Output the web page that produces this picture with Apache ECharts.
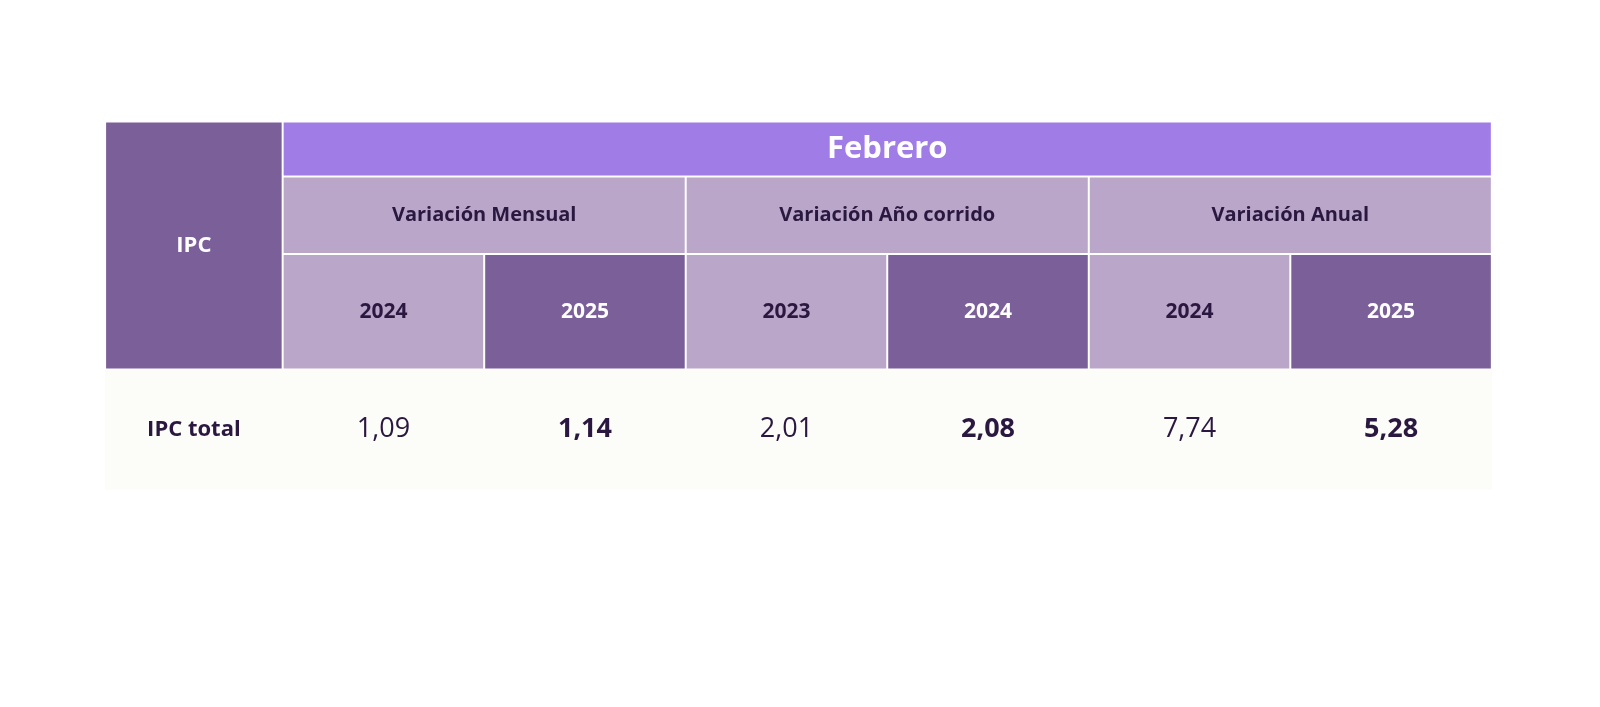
<!DOCTYPE html>
<html><head><meta charset="utf-8">
<script src="https://cdn.jsdelivr.net/npm/echarts@6/dist/echarts.min.js"></script>
<style>html,body{margin:0;background:#fff}#c{width:1600px;height:707px}</style>
</head><body><div id="c"></div>
<script>
const title = "Febrero";
const rowHeader = "IPC";
const groups = ["Variación Mensual", "Variación Año corrido", "Variación Anual"];
const years = ["2024", "2025", "2023", "2024", "2024", "2025"];
const rowLabel = "IPC total";
const values = ["1,09", "1,14", "2,01", "2,08", "7,74", "5,28"];

// layout (measured on a 1568-wide view, scaled to 1600)
const S = 1600 / 1568;
const X0 = 103*S, XC = 277*S, X1 = 1462*S;
const Y0 = 119*S, Y1 = 173*S, Y2 = 249*S, Y3 = 362*S, Y4 = 480*S;
const subW = (X1 - XC) / years.length;
const DARK = "#7a5f99", LIGHT = "#b9a6c8", HEAD = "#a07ce6", TXT = "#2b1840";
const F = "'Open Sans', 'Noto Sans', sans-serif";

const cells = [];
cells.push({p:[X0, Y3, X1, Y4], fill:"#fcfcf8", text:"", gap:0});
cells.push({p:[X0, Y0, XC, Y3], fill:DARK, text:rowHeader, color:"#fff", size:22, w:"bold"});
cells.push({p:[XC, Y0, X1, Y1], fill:HEAD, text:title, color:"#fff", size:31, w:"bold"});
groups.forEach((g, i) => {
  const a = XC + i * 2 * subW;
  cells.push({p:[a, Y1, a + 2*subW, Y2], fill:LIGHT, text:g, color:TXT, size:20, w:"bold"});
});
years.forEach((y, i) => {
  const a = XC + i * subW;
  const cur = i % 2 === 1;
  cells.push({p:[a, Y2, a + subW, Y3], fill:cur ? DARK : LIGHT, text:y, color:cur ? "#fff" : TXT, size:21, w:"bold"});
  cells.push({p:[a, Y3, a + subW, Y4], fill:"transparent", text:values[i], color:TXT, size:27, w:cur ? "bold" : "normal", gap:0});
});
cells.push({p:[X0, Y3, XC, Y4], fill:"transparent", text:rowLabel, color:TXT, size:22, w:"bold", gap:0});

const chart = echarts.init(document.getElementById('c'));
chart.setOption({
  animation:false,
  grid:{left:0,right:0,top:0,bottom:0},
  xAxis:{type:'value',min:0,max:1600,show:false},
  yAxis:{type:'value',min:0,max:707,inverse:true,show:false},
  series:[{
    type:'custom',
    data: cells.map((c, i) => [c.p[0], c.p[1], c.p[2], c.p[3], i]),
    renderItem:(params, api) => {
      const c = cells[api.value(4)];
      const p0 = api.coord([api.value(0), api.value(1)]);
      const p1 = api.coord([api.value(2), api.value(3)]);
      const g = c.gap === undefined ? 1 : c.gap;
      return {type:'group', children:[
        {type:'rect', shape:{x:p0[0]+g, y:p0[1]+g, width:p1[0]-p0[0]-2*g, height:p1[1]-p0[1]-2*g}, style:{fill:c.fill}},
        {type:'text', x:(p0[0]+p1[0])/2, y:(p0[1]+p1[1])/2, style:{text:c.text, fill:c.color, font:`${c.w} ${c.size}px ${F}`, align:'center', verticalAlign:'middle'}}
      ]};
    }
  }]
});
</script></body></html>
